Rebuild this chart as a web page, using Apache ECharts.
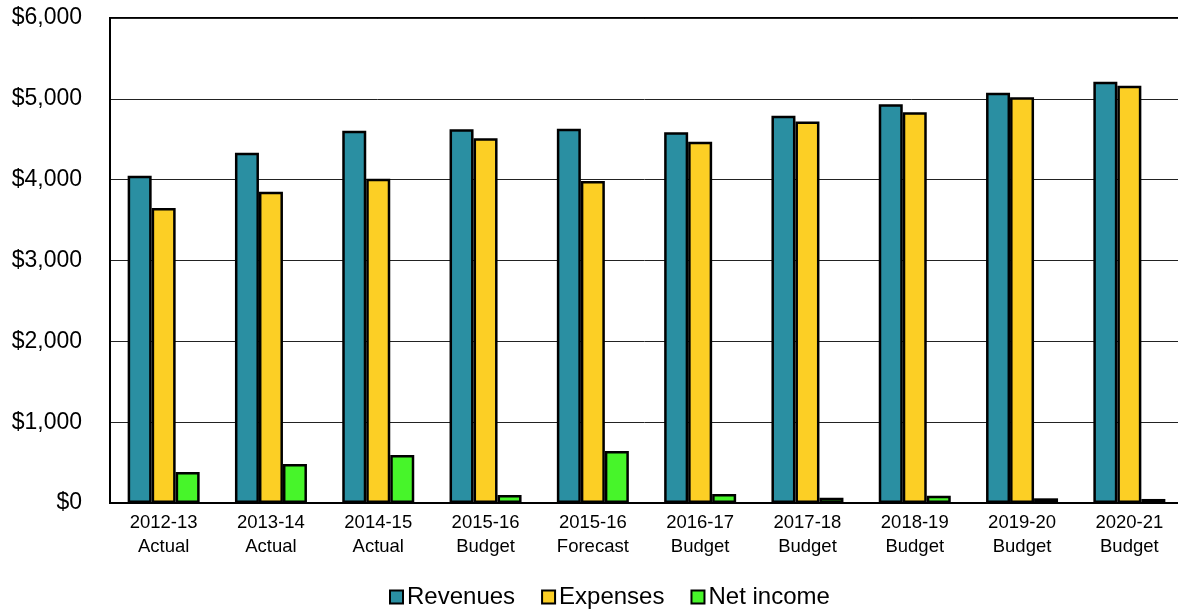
<!DOCTYPE html>
<html>
<head>
<meta charset="utf-8">
<script src="https://cdn.jsdelivr.net/npm/echarts@6/dist/echarts.min.js"></script>
<style>
  html, body { margin: 0; padding: 0; background: #fff; }
  #chart { width: 1178px; height: 609px; }
</style>
</head>
<body>
<div id="chart"></div>
<script>
// Fiscal periods (year + status) shown along the x axis
const categories = [
  '2012-13\nActual', '2013-14\nActual', '2014-15\nActual', '2015-16\nBudget',
  '2015-16\nForecast', '2016-17\nBudget', '2017-18\nBudget', '2018-19\nBudget',
  '2019-20\nBudget', '2020-21\nBudget'
];

// Amounts in millions of dollars
const revenues  = [4047, 4332, 4604, 4625, 4629, 4588, 4790, 4934, 5074, 5210];
const expenses  = [3651, 3849, 4010, 4513, 3985, 4468, 4719, 4835, 5021, 5161];
const netIncome = [384, 483, 594, 99, 644, 111, 66, 90, 58, 50];

// Value axis ticks
const yTicks = [0, 1000, 2000, 3000, 4000, 5000, 6000];

const chart = echarts.init(document.getElementById('chart'));

const barStyle = (color) => ({
  color: color,
  borderColor: '#000',
  borderWidth: 2.5
});

chart.setOption({
  animation: false,
  textStyle: { fontFamily: '"Liberation Sans", Arial, sans-serif' },
  grid: {
    left: 110, top: 18, width: 1073, bottom: 106,
    outerBoundsMode: 'none',
    show: true, borderColor: '#000', borderWidth: 2, backgroundColor: 'transparent'
  },
  legend: {
    left: 384, top: 580,
    itemWidth: 13, itemHeight: 13, itemGap: 26,
    icon: 'rect',
    textStyle: { fontSize: 24, color: '#000', fontFamily: '"Liberation Sans", Arial, sans-serif', padding: [0, 0, 0, -1] },
    itemStyle: { borderColor: '#000', borderWidth: 2 },
    data: ['Revenues', 'Expenses', 'Net income']
  },
  xAxis: {
    type: 'category',
    data: categories,
    axisLine: { lineStyle: { color: '#000', width: 2 } },
    axisTick: { show: false },
    axisLabel: {
      color: '#000', fontSize: 18.5, lineHeight: 24, margin: 8,
      fontFamily: '"Liberation Sans", Arial, sans-serif'
    }
  },
  yAxis: {
    type: 'value',
    min: yTicks[0], max: yTicks[yTicks.length - 1], interval: 1000,
    axisLine: { show: true, lineStyle: { color: '#000', width: 2 } },
    axisTick: { show: false },
    splitLine: { lineStyle: { color: '#222', width: 1 } },
    axisLabel: {
      color: '#000', fontSize: 23, margin: 28,
      formatter: (v) => '$' + v.toLocaleString('en-US')
    }
  },
  series: [
    { name: 'Revenues', type: 'bar', data: revenues, barWidth: 24, barGap: '0%', itemStyle: barStyle('#2A8FA2') },
    { name: 'Expenses', type: 'bar', data: expenses, barWidth: 24, barGap: '0%', itemStyle: barStyle('#FCCF25') },
    { name: 'Net income', type: 'bar', data: netIncome, barWidth: 24, barGap: '0%', itemStyle: barStyle('#47F52A') }
  ]
});
</script>
</body>
</html>
